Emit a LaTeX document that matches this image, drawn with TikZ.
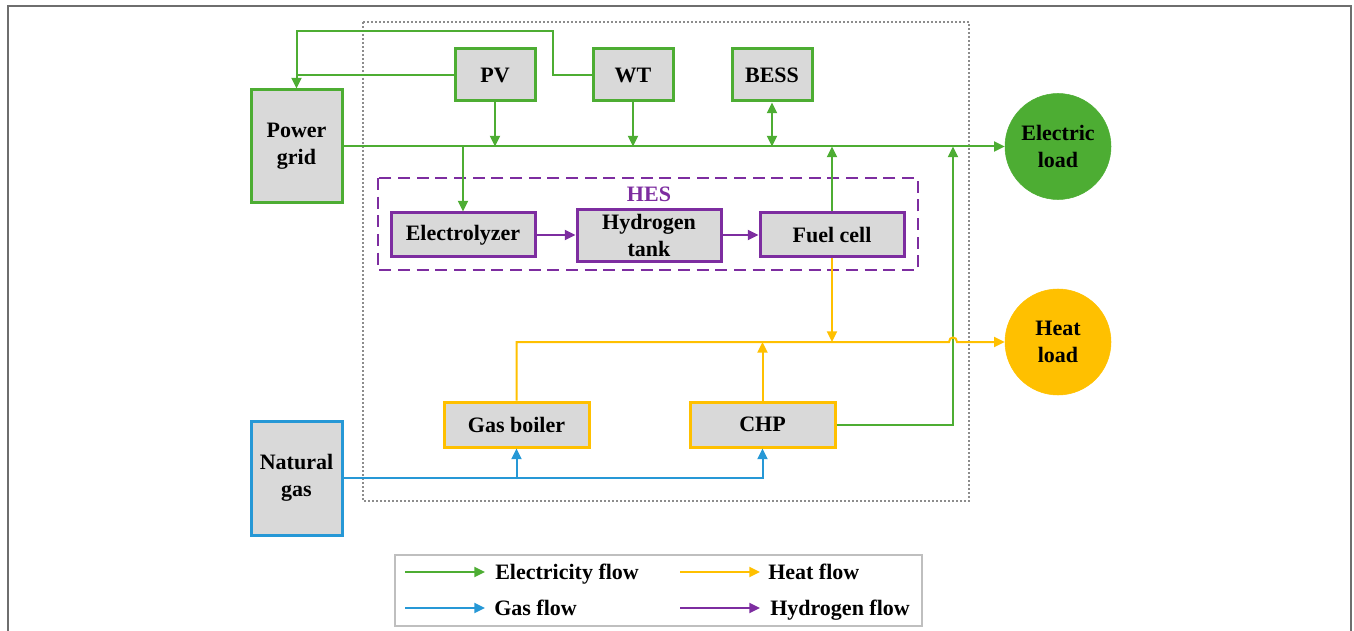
\documentclass[tikz,border=0pt]{standalone}
\usepackage{fontspec}
\setmainfont{Liberation Serif}
\usetikzlibrary{arrows.meta}
\definecolor{cgreen}{RGB}{77,173,51}
\definecolor{cyellow}{RGB}{255,192,0}
\definecolor{cblue}{RGB}{38,152,214}
\definecolor{cpurple}{RGB}{125,45,160}
\definecolor{cfill}{RGB}{217,217,217}
\definecolor{cframe}{RGB}{110,110,110}
\definecolor{cdot}{RGB}{140,140,140}
\definecolor{cleg}{RGB}{191,191,191}
\begin{document}
\begin{tikzpicture}[x=0.75pt,y=-0.75pt,
  font=\fontsize{16.5}{20.5}\selectfont\bfseries,
  box/.style={draw=#1, fill=cfill, line width=2.25pt, inner sep=0pt, align=center, rectangle},
  load/.style={circle, fill=#1, draw=#1, minimum size=79.5pt, inner sep=0pt, align=center},
  flow/.style={draw=#1, line width=1.5pt, -{Triangle[length=8pt,width=7.5pt]}},
  wire/.style={draw=#1, line width=1.5pt},
]
\useasboundingbox (0,0) rectangle (1354,631);
% outer frame
\draw[cframe, line width=1.5pt] (8,631) -- (8,6) -- (1351,6) -- (1351,631);
% dotted system boundary
\draw[cdot, line width=1.1pt, dash pattern=on 1.5pt off 1.5pt] (363,22) rectangle (969,501);
% HES dashed box
\draw[cpurple, line width=1.5pt, dash pattern=on 9pt off 5pt] (378,178) rectangle (918,270);
\node[text=cpurple] (hes) at (649,194) {HES};

% nodes
\node[box=cgreen, minimum width=60pt, minimum height=39pt] (pv) at (495,75) {PV};
\node[box=cgreen, minimum width=60pt, minimum height=39pt] (wt) at (633,75) {WT};
\node[box=cgreen, minimum width=60pt, minimum height=39pt] (bess) at (772,75) {BESS};
\node[box=cgreen, minimum width=68.25pt, minimum height=84.75pt] (pg) at (296.5,146.5) {Power\\grid};
\node[box=cblue, minimum width=68.25pt, minimum height=85.5pt] (ng) at (296.5,478) {Natural\\gas};
\node[box=cpurple, minimum width=108pt, minimum height=33pt] (elz) at (463,235) {Electrolyzer};
\node[box=cpurple, minimum width=108pt, minimum height=39pt] (ht) at (649,235.5) {Hydrogen\\tank};
\node[box=cpurple, minimum width=108pt, minimum height=33pt] (fc) at (832,235) {Fuel cell};
\node[box=cyellow, minimum width=108.75pt, minimum height=33.75pt] (gb) at (516.5,424.5) {Gas boiler};
\node[box=cyellow, minimum width=108.75pt, minimum height=33.75pt] (chp) at (762.5,424.5) {CHP};
\node[load=cgreen] (el) at (1058,146.5) {Electric\\load};
\node[load=cyellow] (hl) at (1058,342) {Heat\\load};

% electricity
\draw[flow=cgreen] (pg.east) -- (el.west);
\draw[flow=cgreen] (pv.south) -- (pv.south |- pg.east);
\draw[flow=cgreen] (wt.south) -- (wt.south |- pg.east);
\draw[wire=cgreen, {Triangle[length=8pt,width=7.5pt]}-{Triangle[length=8pt,width=7.5pt]}] (bess.south) -- (bess.south |- pg.east);
\coordinate (etap) at (463,146.5);
\draw[flow=cgreen] (etap) -- (elz.north);
\draw[flow=cgreen] (fc.north) -- (fc.north |- pg.east);
\coordinate (cj) at (953,146.5);
\draw[flow=cgreen] (chp.east) -| (cj);
\draw[flow=cgreen] (pv.west) -| (pg.north);
\coordinate (wtk) at (553,31);
\coordinate (pgk) at (296.5,31);
\draw[wire=cgreen] (wt.west) -| (wtk) -- (pgk) -- (pgk |- pv.west);

% hydrogen
\draw[flow=cpurple] (elz.east) -- (elz.east -| ht.west);
\draw[flow=cpurple] (ht.east |- fc.west) -- (fc.west);

% heat
\coordinate (hj1) at (949,342);
\coordinate (hj2) at (957,342);
\draw[flow=cyellow] (gb.north) |- (hj1) .. controls +(0,-6) and +(0,-6) .. (hj2) -- (hl.west);
\draw[flow=cyellow] (fc.south) -- (fc.south |- hl.west);
\draw[flow=cyellow] (chp.north) -- (chp.north |- hl.west);

% gas
\draw[flow=cblue] (ng.east) -| (chp.south);
\draw[flow=cblue] (gb.south |- ng.east) -- (gb.south);

% legend
\draw[cleg, line width=1.5pt] (395,555) rectangle (922,626);
\coordinate (l1a) at (405,572); \coordinate (l1b) at (485,572);
\coordinate (l2a) at (680,572); \coordinate (l2b) at (760,572);
\coordinate (l3a) at (405,608); \coordinate (l3b) at (485,608);
\coordinate (l4a) at (680,608); \coordinate (l4b) at (760,608);
\draw[flow=cgreen] (l1a) -- (l1b);
\draw[flow=cyellow] (l2a) -- (l2b);
\draw[flow=cblue] (l3a) -- (l3b);
\draw[flow=cpurple] (l4a) -- (l4b);
\node[anchor=base west, inner sep=0pt] (t1) at (495,579) {Electricity flow};
\node[anchor=base west, inner sep=0pt] (t2) at (768,579) {Heat flow};
\node[anchor=base west, inner sep=0pt] (t3) at (494,615) {Gas flow};
\node[anchor=base west, inner sep=0pt] (t4) at (770,615) {Hydrogen flow};
\end{tikzpicture}
\end{document}
